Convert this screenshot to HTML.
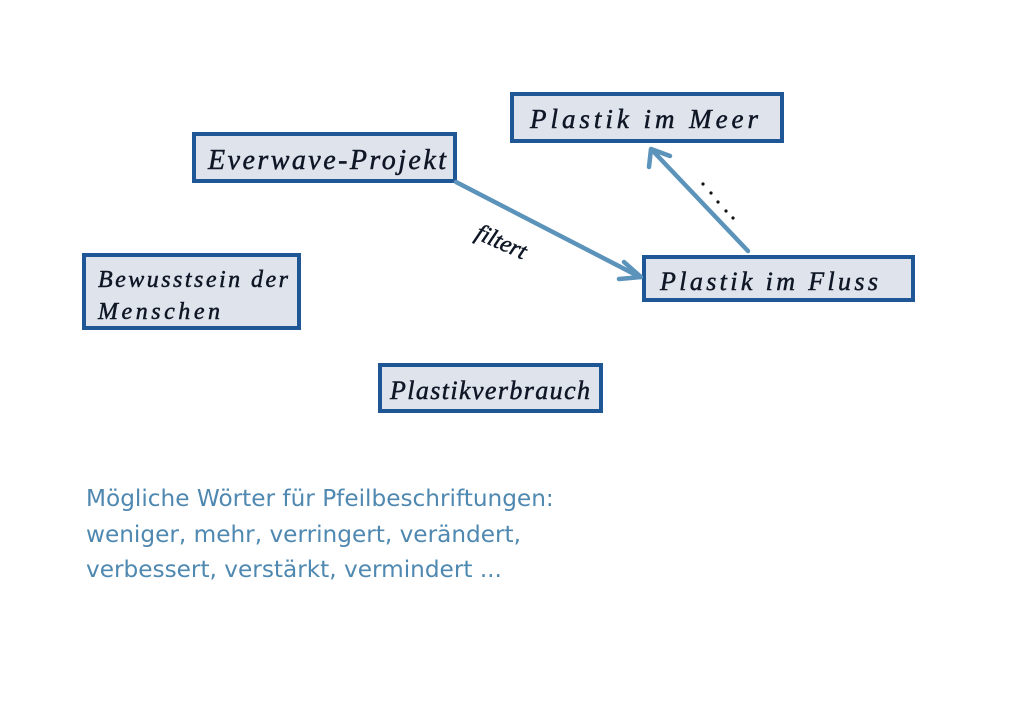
<!DOCTYPE html>
<html><head><meta charset="utf-8"><style>
html,body{margin:0;padding:0;background:#fff;}
body{width:1024px;height:723px;position:relative;overflow:hidden;}
svg{position:absolute;left:0;top:0;}
.hw{font-family:"Liberation Serif",serif;font-style:italic;fill:#0f1726;stroke:#0f1726;stroke-width:0.5;}
.txt{position:absolute;left:86px;font-family:"DejaVu Sans","Liberation Sans",sans-serif;color:#4f88b0;font-size:23.2px;line-height:35.5px;top:481px;}
</style></head><body>
<svg width="1024" height="723" viewBox="0 0 1024 723">
<g stroke="#1f5796" stroke-width="4" fill="#dfe3ec">
<rect x="194" y="134" width="261" height="47"/>
<rect x="512" y="94" width="270" height="47"/>
<rect x="84" y="255" width="215" height="73"/>
<rect x="644" y="257" width="269" height="43"/>
<rect x="380" y="365" width="221" height="46"/>
</g>
<g stroke="#5b93bb" stroke-width="4.5" fill="none" stroke-linecap="round" stroke-linejoin="round">
<line x1="456" y1="182" x2="640" y2="277"/>
<polyline points="624,262 641,277 619,279"/>
<line x1="748" y1="251" x2="652" y2="150"/>
<polyline points="649,167 651,149 670,156"/>
</g>
<g fill="#111">
<circle cx="703" cy="184" r="1.6"/><circle cx="711" cy="193" r="1.6"/><circle cx="718" cy="202" r="1.6"/><circle cx="726" cy="211" r="1.6"/><circle cx="733" cy="218" r="1.6"/>
</g>
<text class="hw" x="208" y="169" font-size="28" textLength="238">Everwave-Projekt</text>
<text class="hw" x="530" y="128" font-size="27" textLength="228">Plastik im Meer</text>
<text class="hw" x="98" y="287" font-size="24" textLength="190">Bewusstsein der</text>
<text class="hw" x="98" y="319" font-size="24" textLength="122">Menschen</text>
<text class="hw" x="660" y="290" font-size="26" textLength="218">Plastik im Fluss</text>
<text class="hw" x="390" y="399" font-size="26" textLength="200">Plastikverbrauch</text>
<text class="hw" x="474" y="238" font-size="24" transform="rotate(24 474 238)">filtert</text>
</svg>
<div class="txt">Mögliche Wörter für Pfeilbeschriftungen:<br>weniger, mehr, verringert, verändert,<br>verbessert, verstärkt, vermindert ...</div>
</body></html>
